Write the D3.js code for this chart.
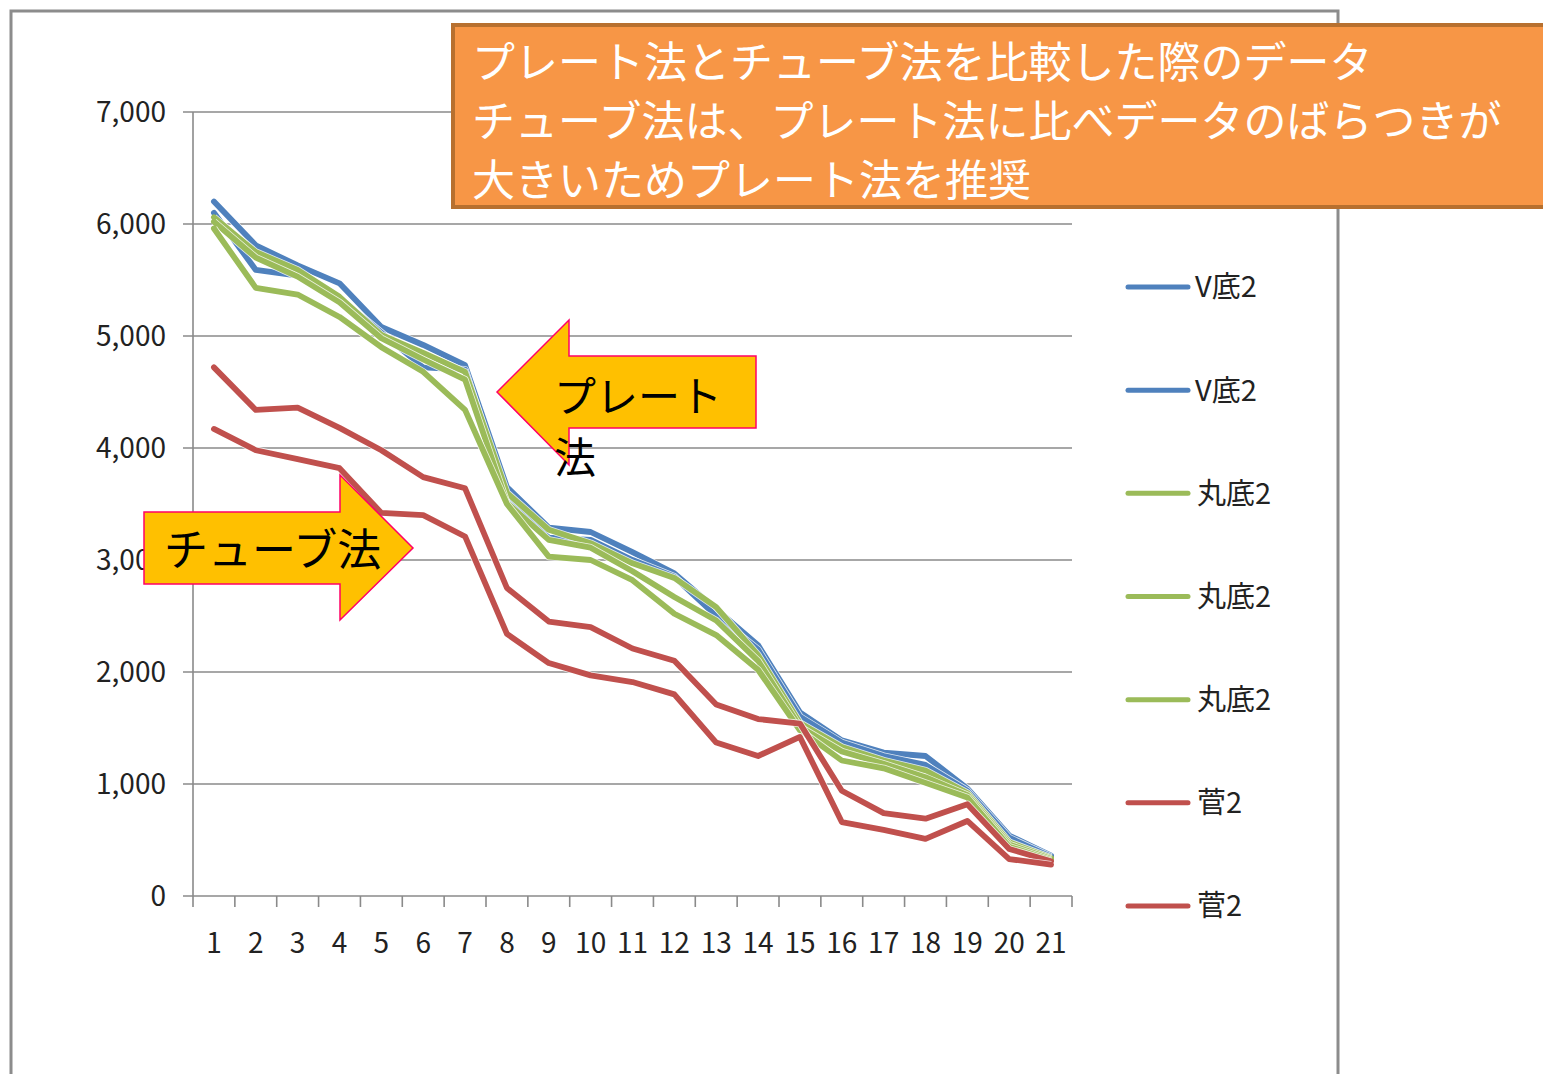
<!DOCTYPE html>
<html lang="ja">
<head>
<meta charset="utf-8">
<script src="https://cdn.jsdelivr.net/npm/d3@7"></script>
<style>
  html, body { margin: 0; padding: 0; background: #fff; overflow: hidden; }
  svg { display: block; }
  text { font-family: "Noto Sans CJK JP", "Noto Sans", sans-serif; }
</style>
</head>
<body>
<svg id="chart" width="1543" height="1074"></svg>
<script>
// Sample numbers 1..21
const categories = d3.range(1, 22);

// Measured values per sample, one array per series
const vBottomA = [6200, 5810, 5630, 5470, 5080, 4920, 4740, 3650, 3290, 3250, 3070, 2880, 2560, 2240, 1640, 1390, 1280, 1250, 960, 540, 360];
const vBottomB = [6100, 5590, 5540, 5340, 5030, 4720, 4700, 3540, 3200, 3180, 3000, 2850, 2500, 2200, 1600, 1370, 1250, 1170, 940, 520, 350];
const roundBottomA = [6060, 5750, 5590, 5350, 5010, 4850, 4680, 3600, 3270, 3150, 2970, 2840, 2580, 2150, 1545, 1330, 1210, 1120, 920, 480, 340];
const roundBottomB = [6020, 5700, 5530, 5300, 4980, 4790, 4610, 3510, 3180, 3110, 2900, 2670, 2460, 2100, 1510, 1290, 1180, 1060, 900, 460, 330];
const roundBottomC = [5960, 5430, 5370, 5170, 4900, 4680, 4340, 3500, 3030, 3000, 2820, 2520, 2330, 2020, 1480, 1210, 1140, 1010, 880, 440, 320];
const tubeA = [4720, 4340, 4360, 4180, 3980, 3740, 3640, 2750, 2450, 2400, 2210, 2100, 1710, 1580, 1540, 940, 740, 690, 820, 420, 310];
const tubeB = [4170, 3980, 3900, 3820, 3420, 3400, 3210, 2340, 2080, 1970, 1910, 1800, 1370, 1250, 1420, 660, 590, 510, 670, 330, 280];

const seriesNames = ["V底2", "V底2", "丸底2", "丸底2", "丸底2", "菅2", "菅2"];
const seriesValues = [vBottomA, vBottomB, roundBottomA, roundBottomB, roundBottomC, tubeA, tubeB];
const seriesColors = ["#4F81BD", "#4F81BD", "#9BBB59", "#9BBB59", "#9BBB59", "#C0504D", "#C0504D"];

const yTicks = [0, 1000, 2000, 3000, 4000, 5000, 6000, 7000];

const noteLines = [
  "プレート法とチューブ法を比較した際のデータ",
  "チューブ法は、プレート法に比べデータのばらつきが",
  "大きいためプレート法を推奨"
];
const plateLabel = ["プレート", "法"];
const tubeLabel = "チューブ法";

const svg = d3.select("#chart");

// Outer chart frame
svg.append("rect")
  .attr("x", 11).attr("y", 11)
  .attr("width", 1327).attr("height", 1100)
  .attr("fill", "#fff")
  .attr("stroke", "#8c8c8c").attr("stroke-width", 3);

const x = d3.scaleLinear().domain([0.5, 21.5]).range([193, 1072]);
const y = d3.scaleLinear().domain([0, 7000]).range([896, 112]);

const gridColor = "#8a8a8a";

// Horizontal gridlines with their left tick marks
svg.append("g").selectAll("line")
  .data(yTicks)
  .join("line")
  .attr("x1", 183).attr("x2", 1072)
  .attr("y1", d => y(d)).attr("y2", d => y(d))
  .attr("stroke", gridColor).attr("stroke-width", 1.6);

// Y axis line
svg.append("line")
  .attr("x1", 193).attr("x2", 193)
  .attr("y1", y(7000)).attr("y2", y(0))
  .attr("stroke", gridColor).attr("stroke-width", 1.6);

// Y tick labels
svg.append("g").selectAll("text")
  .data(yTicks)
  .join("text")
  .attr("x", 166)
  .attr("y", d => y(d))
  .attr("dy", "0.36em")
  .attr("text-anchor", "end")
  .attr("font-size", 28)
  .attr("fill", "#222")
  .text(d => d3.format(",")(d));

// X tick marks between categories
svg.append("g").selectAll("line")
  .data(d3.range(0, 22))
  .join("line")
  .attr("x1", d => x(d + 0.5)).attr("x2", d => x(d + 0.5))
  .attr("y1", y(0)).attr("y2", y(0) + 11)
  .attr("stroke", gridColor).attr("stroke-width", 1.6);

// X category labels
svg.append("g").selectAll("text")
  .data(categories)
  .join("text")
  .attr("x", d => x(d))
  .attr("y", 953)
  .attr("text-anchor", "middle")
  .attr("font-size", 28)
  .attr("fill", "#222")
  .text(d => d);

// Series lines: a thin white halo under each coloured stroke
const line = d3.line()
  .x((d, i) => x(categories[i]))
  .y(d => y(d));

const lines = svg.append("g");
seriesValues.forEach((vals, k) => {
  lines.append("path")
    .attr("d", line(vals))
    .attr("fill", "none")
    .attr("stroke", "#ffffff")
    .attr("stroke-width", 7.4)
    .attr("stroke-linejoin", "round")
    .attr("stroke-opacity", 0.8);
  lines.append("path")
    .attr("d", line(vals))
    .attr("fill", "none")
    .attr("stroke", seriesColors[k])
    .attr("stroke-width", 5.8)
    .attr("stroke-linejoin", "round")
    .attr("stroke-linecap", "round");
});

// Legend
const legendY = d3.scalePoint().domain(d3.range(seriesNames.length)).range([287, 906]);
const legend = svg.append("g");
seriesNames.forEach((name, k) => {
  const ly = legendY(k);
  legend.append("line")
    .attr("x1", 1128).attr("x2", 1188)
    .attr("y1", ly).attr("y2", ly)
    .attr("stroke", seriesColors[k])
    .attr("stroke-width", 5)
    .attr("stroke-linecap", "round");
  legend.append("text")
    .attr("x", name.startsWith("V") ? 1195 : 1197)
    .attr("y", ly)
    .attr("dy", "0.36em")
    .attr("font-size", 29)
    .attr("fill", "#222")
    .text(name);
});

// Left-pointing arrow callout for the plate method
const plateArrow = [[497, 392], [569, 320], [569, 356], [756, 356], [756, 428], [569, 428], [569, 465]];
svg.append("path")
  .attr("d", d3.line()(plateArrow) + "Z")
  .attr("fill", "#FFC000")
  .attr("stroke", "#FF0066").attr("stroke-width", 1.5);
// Wrapped label: two lines inside one text element
svg.append("text")
  .attr("font-size", 42)
  .attr("fill", "#000")
  .selectAll("tspan")
  .data(plateLabel)
  .join("tspan")
  .attr("x", 554)
  .attr("y", (d, i) => 412 + i * 61)
  .text(d => d);

// Right-pointing arrow callout for the tube method
const tubeArrow = [[144, 512], [340, 512], [340, 475], [413, 548], [340, 620], [340, 584], [144, 584]];
svg.append("path")
  .attr("d", d3.line()(tubeArrow) + "Z")
  .attr("fill", "#FFC000")
  .attr("stroke", "#FF0066").attr("stroke-width", 1.5);
svg.append("text")
  .attr("x", 164).attr("y", 566)
  .attr("font-size", 44)
  .attr("fill", "#000")
  .text(tubeLabel);

// Orange note box
svg.append("rect")
  .attr("x", 453).attr("y", 25)
  .attr("width", 1120).attr("height", 182)
  .attr("fill", "#F79646")
  .attr("stroke", "#B7702F").attr("stroke-width", 4);
svg.append("g").selectAll("text")
  .data(noteLines)
  .join("text")
  .attr("x", 472)
  .attr("y", (d, i) => 78 + i * 59)
  .attr("font-size", 43)
  .attr("fill", "#fff")
  .text(d => d);
</script>
</body>
</html>
